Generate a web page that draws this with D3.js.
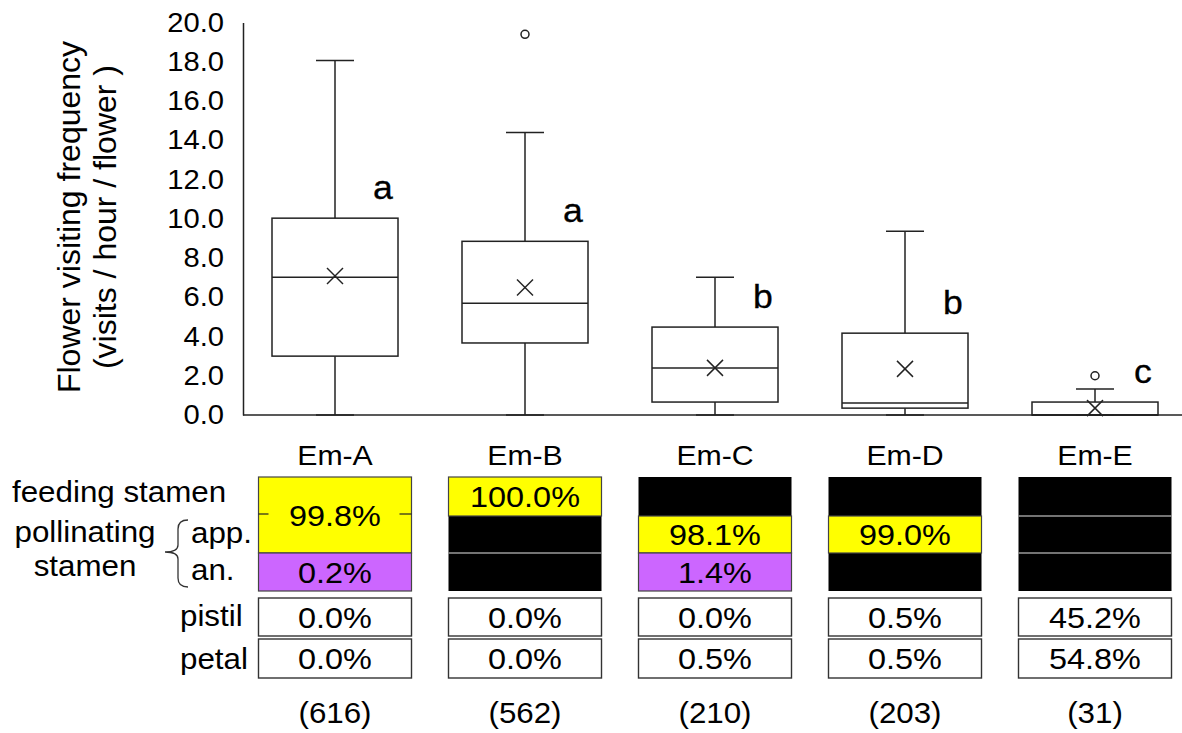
<!DOCTYPE html>
<html>
<head>
<meta charset="utf-8">
<script src="https://cdn.jsdelivr.net/npm/d3@7"></script>
<style>
  body { margin: 0; background: #fff; }
  svg { display: block; font-family: "Liberation Sans", Arial, sans-serif; }
</style>
</head>
<body>
<div id="chart"></div>
<script>
// groups and box plot stats (visits / hour / flower)
var groups = ["Em-A", "Em-B", "Em-C", "Em-D", "Em-E"];
var whiskerLow = [0, 0, 0, 0, 0];
var q1 = [3.0, 3.67, 0.66, 0.35, 0.0];
var median = [7.02, 5.7, 2.39, 0.61, 0.0];
var q3 = [10.03, 8.85, 4.48, 4.17, 0.66];
var whiskerHigh = [18.07, 14.4, 7.02, 9.36, 1.33];
var means = [7.08, 6.5, 2.4, 2.35, 0.35];
var outliers = [[], [19.4], [], [], [2.0]];
var letters = ["a", "a", "b", "b", "c"];

var yTicks = [0, 2, 4, 6, 8, 10, 12, 14, 16, 18, 20];

// visited parts (%), null = no data (black cell)
var feeding = [99.8, 100.0, null, null, null];
var approach = [99.8, null, 98.1, 99.0, null];
var anther = [0.2, null, 1.4, null, null];
var mergedFeedApp = [true, false, false, false, false];
var pistil = [0.0, 0.0, 0.0, 0.5, 45.2];
var petal = [0.0, 0.0, 0.5, 0.5, 54.8];
var nVisits = [616, 562, 210, 203, 31];

var width = 1182, height = 733;
var stretch = 1.08; // the original lettering is a bit wide
var svg = d3.select("#chart").append("svg")
    .attr("width", width)
    .attr("height", height);

svg.append("rect").attr("width", width).attr("height", height).attr("fill", "#fff");

function label(parent, txt, px, py, size, anchor) {
  return parent.append("text")
    .attr("transform", "translate(" + px + "," + py + ") scale(" + stretch + ",1)")
    .attr("dy", "0.35em")
    .attr("text-anchor", anchor || "middle")
    .style("font-size", size + "px")
    .text(txt);
}

var x = d3.scalePoint().domain(groups).range([335, 1095]);
var y = d3.scaleLinear().domain([0, 20]).range([415, 22.5]);
var boxW = 126, cellW = 153;
var ink = "#222";

// y axis
var yAxis = d3.axisLeft(y)
    .tickValues(yTicks)
    .tickFormat(d3.format(".1f"))
    .tickSize(0)
    .tickPadding(19);

var gy = svg.append("g")
    .attr("transform", "translate(243,0)")
    .call(yAxis);
gy.select(".domain").attr("stroke", ink).attr("stroke-width", 1.5);
gy.selectAll(".tick text")
    .attr("fill", "#000")
    .attr("x", -19 / stretch)
    .attr("transform", "scale(" + stretch + ",1)")
    .style("font-size", "27px")
    .style("font-family", "'Liberation Sans', Arial, sans-serif");

// baseline
svg.append("line")
    .attr("x1", 243).attr("x2", width)
    .attr("y1", y(0)).attr("y2", y(0))
    .attr("stroke", ink).attr("stroke-width", 1.5);

// axis title
var title = svg.append("text")
    .attr("transform", "translate(0," + 217 + ") rotate(-90)")
    .attr("text-anchor", "middle")
    .style("font-size", "32px");
title.append("tspan").attr("x", 0).attr("y", 80).text("Flower visiting frequency");
title.append("tspan").attr("x", 0).attr("y", 116).text("(visits / hour / flower )");

// boxes
var boxes = svg.selectAll("g.box")
    .data(groups)
    .enter().append("g")
    .attr("class", "box");

boxes.each(function (g, i) {
  var sel = d3.select(this);
  var cx = x(g);
  var line = function (x1, y1, x2, y2) {
    sel.append("line")
      .attr("x1", x1).attr("y1", y1).attr("x2", x2).attr("y2", y2)
      .attr("stroke", ink).attr("stroke-width", 1.5);
  };
  // whiskers
  line(cx, y(q3[i]), cx, y(whiskerHigh[i]));
  line(cx, y(q1[i]), cx, y(whiskerLow[i]));
  line(cx - 19, y(whiskerHigh[i]), cx + 19, y(whiskerHigh[i]));
  line(cx - 19, y(whiskerLow[i]), cx + 19, y(whiskerLow[i]));
  // box
  sel.append("rect")
    .attr("x", cx - boxW / 2)
    .attr("y", y(q3[i]))
    .attr("width", boxW)
    .attr("height", y(q1[i]) - y(q3[i]))
    .attr("fill", "none")
    .attr("stroke", ink).attr("stroke-width", 1.5);
  line(cx - boxW / 2, y(median[i]), cx + boxW / 2, y(median[i]));
  // mean marker
  var m = y(means[i]);
  line(cx - 8, m - 8, cx + 8, m + 8);
  line(cx - 8, m + 8, cx + 8, m - 8);
  // outliers
  outliers[i].forEach(function (o) {
    sel.append("circle")
      .attr("cx", cx).attr("cy", y(o)).attr("r", 4)
      .attr("fill", "#fff").attr("stroke", ink).attr("stroke-width", 1.5);
  });
  // significance letter
  label(sel, letters[i], cx + 48, y(q3[i]) - 31, 33)
    .attr("stroke", "#000").attr("stroke-width", 0.3);
});

// ---- table below ----
var rowTop = [477, 516, 553];
var rowBot = [516, 553, 591];
var yellow = "#ffff00", purple = "#cc66ff";
var pct = function (v) { return d3.format(".1f")(v) + "%"; };

groups.forEach(function (g, i) {
  var left = x(g) - cellW / 2;
  var cx = x(g);
  var stamen = [feeding[i], approach[i], anther[i]];

  // column header
  label(svg, g, cx, 455, 28);

  // black background for stamen block
  svg.append("rect")
    .attr("x", left).attr("y", rowTop[0])
    .attr("width", cellW).attr("height", rowBot[2] - rowTop[0])
    .attr("fill", "#000");
  // grey separators between black cells
  for (var r = 0; r < 2; r++) {
    if (stamen[r] == null && stamen[r + 1] == null) {
      svg.append("line")
        .attr("x1", left).attr("x2", left + cellW)
        .attr("y1", rowBot[r]).attr("y2", rowBot[r])
        .attr("stroke", "#9a9a9a").attr("stroke-width", 1.5);
    }
  }
  if (mergedFeedApp[i]) {
    svg.append("rect")
      .attr("x", left).attr("y", rowTop[0])
      .attr("width", cellW).attr("height", rowBot[1] - rowTop[0])
      .attr("fill", yellow).attr("stroke", "#444").attr("stroke-width", 1.2);
    [[left, left + 10], [left + cellW - 12, left + cellW]].forEach(function (t) {
      svg.append("line")
        .attr("x1", t[0]).attr("x2", t[1])
        .attr("y1", rowBot[0] - 2).attr("y2", rowBot[0] - 2)
        .attr("stroke", "#222").attr("stroke-width", 1.2);
    });
    label(svg, pct(feeding[i]), cx, (rowTop[0] + rowBot[1]) / 2, 30);
  }
  stamen.forEach(function (v, r) {
    if (v == null) return;
    if (mergedFeedApp[i] && r < 2) return;
    svg.append("rect")
      .attr("x", left).attr("y", rowTop[r])
      .attr("width", cellW).attr("height", rowBot[r] - rowTop[r])
      .attr("fill", r < 2 ? yellow : purple)
      .attr("stroke", "#444").attr("stroke-width", 1.2);
    label(svg, pct(v), cx, (rowTop[r] + rowBot[r]) / 2, 30);
  });
  // pistil and petal rows
  [[pistil[i], 598, 636], [petal[i], 639, 678]].forEach(function (c) {
    svg.append("rect")
      .attr("x", left).attr("y", c[1])
      .attr("width", cellW).attr("height", c[2] - c[1])
      .attr("fill", "#fff").attr("stroke", "#333").attr("stroke-width", 1.4);
    label(svg, pct(c[0]), cx, (c[1] + c[2]) / 2, 30);
  });
  // number of visits
  label(svg, "(" + nVisits[i] + ")", cx, 713, 29);
});

// row labels
label(svg, "feeding stamen", 12, 492, 29, "start");
label(svg, "pollinating", 85, 532, 29, "middle");
label(svg, "stamen", 85, 566, 29, "middle");
label(svg, "app.", 191, 533, 29, "start");
label(svg, "an.", 191, 570, 29, "start");
label(svg, "pistil", 180, 616, 29, "start");
label(svg, "petal", 180, 659, 29, "start");

// brace
svg.append("path")
  .attr("d", "M188,520 Q178,520 178,529 L178,545 Q178,552 165,552 Q178,552 178,559 L178,578 Q178,587 188,587")
  .attr("fill", "none")
  .attr("stroke", "#333")
  .attr("stroke-width", 1.3);
</script>
</body>
</html>
